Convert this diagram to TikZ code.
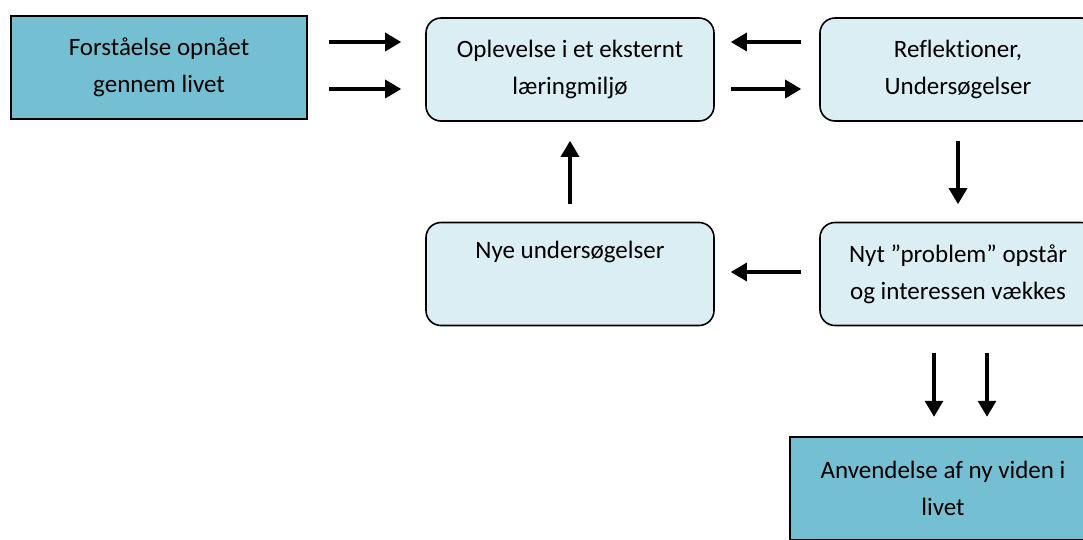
\documentclass[tikz,border=0pt]{standalone}
\usepackage{fontspec}
\setmainfont{Carlito}[Ligatures=NoCommon]
\usetikzlibrary{calc,arrows.meta}
\definecolor{darkbox}{HTML}{74BFD1}
\definecolor{lightbox}{HTML}{DBEEF4}
\tikzset{
  outer/.style={draw=black, line width=2.5pt, fill=darkbox, minimum height=103pt,
    align=center, font=\fontsize{25}{37}\selectfont},
  stage/.style={draw=black, line width=1.6pt, fill=lightbox, rounded corners=15pt,
    minimum width=288pt, minimum height=103pt, align=center, font=\fontsize{25}{37}\selectfont},
  arr/.style={draw=black, line width=3.2pt, -{Triangle[length=16pt,width=18pt]}},
}
\begin{document}
\begin{tikzpicture}[x=1pt,y=-1pt]
  \useasboundingbox (0,0) rectangle (1083,539);
  \clip (0,0) rectangle (1083,539);

  % boxes
  \node[outer, minimum width=296pt] (A) at (159,67.5) {Forståelse opnået\\gennem livet};
  \node[stage] (B) at (570,69.5) {Oplevelse i et eksternt\\læringmiljø};
  \node[stage, minimum width=276pt] (C) at (958,69.5) {Reflektioner,\\Undersøgelser};
  \node[stage] (D) at (570,274) {Nye undersøgelser\\\strut};
  \node[stage, minimum width=276pt] (E) at (958,274) {Nyt ”problem” opstår\\og interessen vækkes};
  \node[outer, minimum width=306pt] (F) at (943,488.5) {Anvendelse af ny viden i\\livet};

  % top row
  \draw[arr] ($(A.east)+(21,-25.5)$) -- ($(B.west|-A.east)+(-24,-25.5)$);
  \draw[arr] ($(A.east)+(21,21.5)$) -- ($(B.west|-A.east)+(-24,21.5)$);
  \draw[arr] ($(C.west)+(-18,-27.5)$) -- ($(B.east)+(16,-27.5)$);
  \draw[arr] ($(B.east)+(16,19.5)$) -- ($(C.west)+(-18,19.5)$);

  % loop
  \draw[arr] ($(C.south)+(0,19)$) -- ($(E.north)+(0,-17.5)$);
  \draw[arr] ($(E.west)+(-18,-2)$) -- ($(D.east)+(16,-2)$);
  \draw[arr] ($(D.north)+(0,-17.5)$) -- ($(B.south)+(0,19)$);

  % out
  \draw[arr] ($(E.south)+(-24,26.5)$) -- ($(F.north-|E.south)+(-24,-19)$);
  \draw[arr] ($(E.south)+(29,26.5)$) -- ($(F.north-|E.south)+(29,-19)$);
\end{tikzpicture}
\end{document}
